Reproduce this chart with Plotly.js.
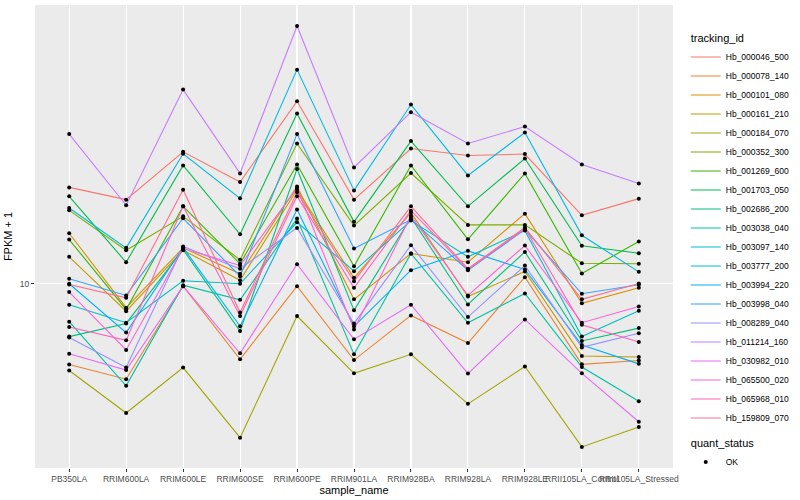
<!DOCTYPE html>
<html>
<head>
<meta charset="utf-8">
<script src="https://cdn.plot.ly/plotly-3.0.1.min.js"></script>
<style>html,body{margin:0;padding:0;background:#fff;}#chart{width:800px;height:500px;}</style>
</head>
<body>
<div id="chart"></div>
<script>
// Categories (x axis)
const sampleNames = ['PB350LA','RRIM600LA','RRIM600LE','RRIM600SE','RRIM600PE','RRIM901LA','RRIM928BA','RRIM928LA','RRIM928LE','RRII105LA_Control','RRII105LA_Stressed'];

// Series names (tracking_id)
const trackingIds = ['Hb_000046_500','Hb_000078_140','Hb_000101_080','Hb_000161_210','Hb_000184_070','Hb_000352_300','Hb_001269_600','Hb_001703_050','Hb_002686_200','Hb_003038_040','Hb_003097_140','Hb_003777_200','Hb_003994_220','Hb_003998_040','Hb_008289_040','Hb_011214_160','Hb_030982_010','Hb_065500_020','Hb_065968_010','Hb_159809_070'];

// FPKM + 1 values, one array per gene, in sampleNames order
const Hb_000046_500 = [20.99, 19.10, 27.60, 21.88, 40.74, 19.10, 28.31, 26.83, 27.12, 16.93, 19.25];
const Hb_000078_140 = [5.37, 4.80, 9.82, 5.59, 9.82, 5.56, 7.84, 6.34, 10.52, 5.38, 5.54];
const Hb_000101_080 = [14.75, 8.32, 13.18, 10.80, 21.15, 8.87, 12.62, 11.80, 17.15, 8.60, 9.70];
const Hb_000161_210 = [12.30, 8.10, 12.94, 10.28, 20.62, 10.47, 17.29, 9.07, 10.99, 5.74, 5.69];
const Hb_000184_070 = [5.13, 3.70, 5.25, 3.06, 7.80, 5.02, 5.81, 3.97, 5.29, 2.85, 3.32];
const Hb_000352_300 = [17.59, 12.94, 16.80, 12.02, 29.42, 15.64, 23.44, 15.73, 15.73, 11.71, 11.66];
const Hb_001269_600 = [14.05, 8.21, 18.14, 11.66, 25.04, 11.45, 24.85, 14.08, 23.37, 10.82, 13.84];
const Hb_001703_050 = [19.59, 11.80, 24.85, 14.63, 37.04, 16.10, 29.97, 18.14, 26.22, 13.39, 12.65];
const Hb_002686_200 = [6.66, 7.37, 13.01, 6.95, 24.17, 8.15, 16.64, 8.53, 12.78, 6.44, 7.11];
const Hb_003038_040 = [7.47, 4.56, 9.89, 8.84, 16.51, 5.81, 12.62, 7.41, 9.28, 5.27, 4.05];
const Hb_003097_140 = [8.51, 7.41, 10.23, 10.00, 16.05, 11.02, 16.26, 12.30, 15.05, 6.66, 8.13];
const Hb_003777_200 = [17.92, 13.18, 27.19, 19.29, 51.92, 20.51, 39.69, 23.01, 32.01, 14.52, 10.96];
const Hb_003994_220 = [10.00, 6.87, 13.21, 7.21, 17.69, 7.21, 11.10, 12.88, 11.16, 6.24, 5.40];
const Hb_003998_040 = [10.39, 9.14, 16.55, 10.60, 31.62, 13.11, 16.38, 11.10, 15.17, 9.26, 9.92];
const Hb_008289_040 = [6.61, 5.25, 13.32, 11.22, 15.37, 7.37, 13.45, 7.74, 11.51, 6.13, 6.83];
const Hb_011214_160 = [31.62, 18.28, 44.53, 23.37, 72.61, 24.47, 37.44, 29.42, 33.52, 25.04, 21.64];
const Hb_030982_010 = [5.84, 5.15, 9.82, 5.86, 11.62, 6.52, 8.51, 5.01, 7.60, 5.02, 3.46];
const Hb_065500_020 = [9.38, 6.01, 13.11, 11.51, 20.89, 7.04, 16.89, 9.14, 13.42, 7.41, 8.40];
const Hb_065968_010 = [7.17, 6.47, 18.14, 7.80, 19.59, 9.70, 17.55, 11.16, 15.29, 7.30, 6.39];
const Hb_159809_070 = [9.95, 8.98, 20.62, 8.02, 20.20, 10.20, 18.14, 11.22, 15.41, 8.87, 10.02];

const seriesValues = [Hb_000046_500, Hb_000078_140, Hb_000101_080, Hb_000161_210, Hb_000184_070, Hb_000352_300, Hb_001269_600, Hb_001703_050, Hb_002686_200, Hb_003038_040, Hb_003097_140, Hb_003777_200, Hb_003994_220, Hb_003998_040, Hb_008289_040, Hb_011214_160, Hb_030982_010, Hb_065500_020, Hb_065968_010, Hb_159809_070];

// ggplot2 default hue palette for 20 levels
const palette = ['#F8766D','#EA8331','#D89000','#C09B00','#A3A500','#7CAE00','#39B600','#00BB4E','#00BF7D','#00C1A3','#00BFC4','#00BAE0','#00B0F6','#35A2FF','#9590FF','#C77CFF','#E76BF3','#FA62DB','#FF62BC','#FF6C91'];

const FONT = 'Liberation Sans, Arial, Helvetica, sans-serif';

const traces = trackingIds.map((id, i) => {
  const t = {
    type: 'scatter', mode: 'lines', name: id,
    x: sampleNames, y: seriesValues[i],
    line: {color: palette[i], width: 1.1},
    legendgroup: 'tracking_id',
    hoverinfo: 'x+y+name'
  };
  if (i === 0) t.legendgrouptitle = {text: 'tracking_id', font: {size: 11, color: '#000', family: FONT}};
  return t;
});

// quant_status points (all OK)
const ptsX = [], ptsY = [];
seriesValues.forEach(vals => vals.forEach((v, j) => { ptsX.push(sampleNames[j]); ptsY.push(v); }));
traces.push({
  type: 'scatter', mode: 'markers', name: 'OK',
  x: ptsX, y: ptsY,
  marker: {color: '#000', size: 4, symbol: 'circle'},
  legendgroup: 'quant_status',
  legendgrouptitle: {text: 'quant_status', font: {size: 11, color: '#000', family: FONT}}
});

const layout = {
  width: 800, height: 500,
  paper_bgcolor: '#FFFFFF', plot_bgcolor: '#EBEBEB',
  margin: {l: 35, r: 116, t: 5, b: 32, pad: 0},
  font: {family: FONT, size: 9, color: '#4D4D4D'},
  showlegend: true,
  xaxis: {
    type: 'category', range: [-0.6, 10.6],
    showgrid: true, gridcolor: '#FFFFFF', gridwidth: 1.1,
    zeroline: false, showline: false,
    ticks: 'outside', ticklen: 3, tickcolor: '#333333', tickwidth: 1,
    tickfont: {size: 8.5, color: '#4D4D4D', family: FONT},
    tickangle: 0,
    title: {text: 'sample_name', font: {size: 11, color: '#000', family: FONT}, standoff: 2},
    automargin: false
  },
  yaxis: {
    type: 'log', range: [0.3845, 1.9313],
    tickvals: [10], ticktext: ['10'],
    showgrid: true, gridcolor: '#FFFFFF', gridwidth: 1.1,
    zeroline: false, showline: false,
    ticks: 'outside', ticklen: 3, tickcolor: '#333333', tickwidth: 1,
    tickfont: {size: 8.5, color: '#4D4D4D', family: FONT},
    title: {text: 'FPKM + 1', font: {size: 11, color: '#000', family: FONT}, standoff: 4},
    automargin: false
  },
  legend: {
    x: 1.02, xanchor: 'left', y: 0.96, yanchor: 'top',
    bgcolor: 'rgba(0,0,0,0)',
    font: {size: 8.5, color: '#000', family: FONT},
    traceorder: 'grouped', tracegroupgap: 6,
    itemwidth: 30
  }
};

Plotly.newPlot('chart', traces, layout, {displayModeBar: false, staticPlot: true});
</script>
</body>
</html>
